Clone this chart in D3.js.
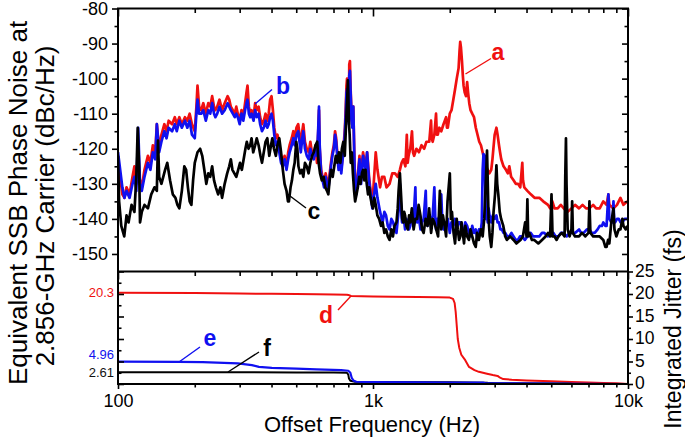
<!DOCTYPE html>
<html><head><meta charset="utf-8">
<script src="https://cdn.jsdelivr.net/npm/d3@7/dist/d3.min.js"></script>
<style>body{margin:0;background:#fff}svg{display:block}text{font-family:Arial,"Liberation Sans",sans-serif}</style>
</head><body><svg id="c" width="685" height="438"></svg>
<script>
// ---------- DATA ----------
const freqA=[100,102,104,106,108,111,114,116,118,120,124,127,131,134,137,140,142,145,148,152,155,158,163,167,170,174,178,183,187,191,195,200,203,205,208,212,216,221,226,230,234,238,241,245,250,256,262,269,273,277,282,287,291,295,300,305,310,315,319,322,326,330,334,340,345,350,356,361,367,373,379,385,390,395,400,405,410,416,422,429,436,443,450,458,465,471,480,487,493,501,509,515,521,528,533,541,550,560,568,576,586,595,603,610,614,618,626,634,643,652,660,667,674,684,693,702,710,717,724,733,742,751,760,769,776,782,787,791,795,800,805,807,812,817,824,830,837,844,851,860,869,878,885,891,898,905,914,924,934,942,948,956,965,975,984,994,
1000,1025,1041,1066,1085,1107,1130,1161,1190,1220,1250,1275,1295,1315,1340,1357,1368,1379,1400,1422,1435,1450,1480,1514,1550,1587,1620,1662,1689,1700,1714,1740,1767,1780,1795,1820,1852,1890,1935,1950,1965,2000,2032,2065,2098,2130,2166,2185,2198,2212,2233,2250,2266,2290,2315,2340,2360,2385,2413,2450,2490,2530,2570,2610,2651,2690,2731,2775,2818,2860,2909,2940,2965,3000,3048,3080,3120,3150,3183,3250,3321,3380,3424,3480,3558,3630,3707,3780,3850,3875,3920,4031,4157,4300,4490,4650,4856,4950,5050,5150,5300,5450,5600,5800,6000,6200,6427,6633,6850,7060,7300,7500,7745,8000,8241,8375,8450,8770,9054,9339,9600,9940];
const noiseA=[-124,-128,-133,-134,-131,-133,-128,-125,-130,-127,-131,-126,-122,-124,-119,-121,-113,-120,-116,-113,-115,-112,-113,-111,-113,-111,-113,-111,-112,-110,-113,-115,-108,-102,-108,-109,-107,-110,-107,-108,-105,-108,-109,-108,-106,-109,-107,-105,-106,-108,-109,-110,-108,-110,-112,-109,-111,-107,-104,-102,-108,-110,-109,-111,-107,-109,-108,-111,-113,-112,-110,-112,-110,-106,-105,-109,-114,-117,-116,-119,-122,-124,-122,-125,-121,-119,-117,-115,-117,-114,-113,-116,-119,-115,-113,-118,-120,-121,-118,-121,-122,-119,-124,-115,-109,-120,-126,-128,-130,-127,-129,-131,-128,-124,-121,-119,-115,-117,-121,-125,-123,-126,-122,-118,-114,-108,-102,-100,-104,-108,-112,-96,-95,-103,-110,-113,-108,-120,-131,-132,-128,-125,-122,-126,-129,-124,-121,-123,-125,-123,-121,-124,-128,-131,-133,-136,
-133,-121,-126,-131,-128,-128,-131,-130,-127,-127,-128,-126,-124,-123,-125,-116,-124,-122,-120,-115,-121,-122,-120,-121,-119,-120,-118,-118,-112,-117,-118,-116,-110,-116,-116,-114,-115,-113,-111,-114,-114,-110,-109,-106,-103,-100,-97,-92,-89.5,-91,-95,-99,-102,-104,-105,-101,-104,-107,-109,-110,-111,-114,-116,-118,-119,-121,-123,-125,-126,-127,-126,-123,-120,-116,-114,-116,-119,-121,-123,-125,-126,-127,-125,-128,-129,-130,-130,-131,-124,-129,-131,-132,-133,-134,-134,-135,-136,-137,-135,-137,-137,-136,-137,-138,-137,-136,-137,-136,-137,-137,-136,-137,-137,-135,-136,-133,-136,-137,-136,-134,-136,-135];

const freqB=[100,102,104,106,108,111,114,116,118,120,122,124,127,131,134,137,140,142,145,148,152,155,158,163,167,170,174,178,183,187,191,195,200,203,205,208,212,216,221,226,230,234,238,241,245,250,256,262,269,273,277,282,287,291,295,300,305,310,315,319,322,326,330,334,340,345,350,356,361,367,373,379,385,390,395,400,405,410,416,422,429,436,443,450,458,465,471,480,487,493,501,509,515,521,528,533,541,550,560,568,576,586,595,603,610,614,618,626,634,643,652,660,667,674,684,693,702,710,717,724,733,742,751,760,769,776,782,787,791,795,800,805,807,812,817,824,830,837,844,851,860,869,878,885,891,898,905,914,924,934,942,948,956,965,975,984,994,
1000,1025,1041,1066,1091,1108,1125,1143,1161,1180,1200,1218,1236,1255,1275,1290,1300,1318,1336,1352,1370,1385,1400,1420,1443,1466,1475,1490,1510,1535,1557,1580,1610,1620,1636,1660,1690,1715,1740,1755,1767,1790,1810,1852,1870,1890,1910,1935,1965,2000,2030,2060,2095,2130,2165,2200,2230,2266,2300,2340,2377,2413,2450,2490,2530,2570,2605,2640,2670,2692,2712,2745,2770,2795,2818,2840,2864,2909,2950,3000,3048,3080,3120,3160,3200,3250,3300,3360,3420,3490,3558,3630,3700,3770,3850,3940,4031,4100,4157,4250,4350,4490,4600,4700,4856,5000,5100,5200,5333,5450,5600,5750,5900,6050,6200,6427,6550,6700,6900,7060,7200,7400,7600,7745,7900,8000,8150,8241,8375,8450,8600,8700,8770,8830,8900,9054,9200,9350,9500,9700,9940];
const noiseB=[-121,-126,-131,-134,-132,-134,-130,-128,-132,-114,-130,-132,-128,-124,-126,-121,-123,-113,-121,-118,-115,-117,-114,-115,-113,-115,-112,-114,-112,-114,-112,-116,-117,-110,-106,-110,-110,-109,-112,-109,-110,-107,-110,-111,-110,-108,-110,-109,-107,-108,-109,-110,-111,-110,-111,-113,-110,-112,-109,-107,-106,-110,-111,-110,-112,-109,-111,-110,-113,-115,-114,-112,-114,-113,-111,-110,-112,-116,-119,-118,-121,-124,-125,-123,-126,-123,-121,-119,-117,-119,-116,-115,-118,-121,-117,-115,-120,-122,-123,-120,-122,-123,-120,-122,-114,-108,-119,-127,-129,-131,-128,-130,-132,-129,-125,-122,-120,-116,-118,-122,-126,-124,-127,-123,-120,-115,-110,-104,-103,-106,-110,-113,-99,-97.8,-104,-111,-114,-108,-121,-133,-133,-129,-126,-123,-127,-130,-126,-122,-124,-126,-124,-121,-125,-129,-132,-134,-137,
-135,-130,-134,-138,-141,-138,-139,-142,-143,-140,-141,-143,-144,-139,-130,-138,-141,-139,-143,-140,-141,-143,-142,-139,-140,-131,-140,-141,-139,-143,-141,-140,-132,-140,-142,-140,-141,-139,-131,-140,-143,-140,-141,-133,-141,-143,-141,-142,-140,-144,-141,-142,-140,-143,-141,-141,-143,-144,-141,-142,-144,-145,-142,-144,-143,-146,-143,-144,-141,-126,-121.5,-122,-140,-138,-141,-137,-139,-141,-139,-140,-139,-141,-141,-143,-143,-144,-144,-145,-145,-144,-145,-146,-146,-145,-145,-146,-145,-144,-144,-145,-145,-145,-144,-144,-145,-144,-144,-145,-145,-144,-144,-145,-144,-144,-144,-143,-144,-144,-143,-143,-144,-144,-143,-142,-142,-141,-142,-142,-133,-140,-141,-141,-135,-141,-141,-140,-140,-141,-141,-140,-140];

const freqC=[100,101,103,105.8,108,110,113,116,118,119.5,121,122,124,127,131,135,139,142,143.5,145,148,153,156,160,164,168,171,174,178,182,185,188,191,194,197,200,205,210,214,218,222,226,230,234,238,242,247,252,256,262,268,273,277,281,286,291,296,301,306,311,316,320,325,330,334,339,345,350,356,362,367,373,379,385,392,398,403,409,416,422,429,436,443,450,458,464,468,475,481,487,493,500,505,510,518,526,533,541,550,559,568,577,586,595,604,612,620,630,640,650,660,668,676,685,695,705,715,725,735,745,755,765,775,782,788,793,797,800,804,810,818,826,834,843,851,862,872,883,893,905,915,925,935,945,956,967,978,990,
1000,1012,1025,1040,1057,1075,1091,1108,1125,1143,1161,1180,1197,1215,1236,1250,1260,1275,1290,1302,1315,1325,1336,1352,1370,1385,1400,1420,1443,1465,1490,1510,1535,1557,1580,1608,1636,1660,1690,1715,1740,1770,1800,1829,1852,1880,1910,1935,1960,2001,2020,2040,2070,2098,2130,2150,2175,2200,2225,2250,2275,2302,2340,2377,2410,2450,2490,2529,2560,2600,2650,2692,2730,2760,2800,2840,2870,2909,2940,2970,3010,3048,3070,3100,3140,3180,3243,3300,3350,3450,3558,3650,3787,3870,3950,4000,4031,4060,4100,4200,4290,4450,4600,4750,4856,4950,5012,5060,5150,5250,5333,5500,5640,5675,5711,5740,5800,5900,6000,6039,6080,6200,6427,6600,6800,7000,7060,7120,7300,7500,7745,8000,8150,8241,8350,8450,8600,8770,8850,9000,9200,9339,9500,9600,9800,9940];
const noiseC=[-122,-135,-142,-145,-139,-141,-136,-138,-128,-114,-125,-141,-138,-136,-137,-133,-131,-132,-117.7,-128,-130,-126,-124,-129,-133,-134,-136,-137,-132,-125,-126,-131,-135,-136,-129,-124,-121,-120,-122,-126,-130,-127,-128,-125,-129,-131,-133,-131,-134,-130,-127,-125,-123,-126,-127,-128,-126,-124,-126,-123,-120,-118,-120,-119,-117,-121,-119,-117,-119,-122,-124,-121,-118,-117,-122,-119,-117,-120,-122,-119,-117,-121,-126,-130,-132,-135,-135,-131,-129,-126,-124,-118,-120,-125,-127,-126,-128,-124,-125,-127,-124,-122,-121,-119,-118,-124,-127,-129,-128,-131,-132,-133,-129,-126,-128,-125,-122,-124,-121,-124,-120,-118,-122,-115,-109,-105,-100.5,-104,-112,-116,-124,-121,-127,-132,-135,-133,-131,-128,-130,-127,-126,-129,-126,-130,-133,-131,-134,-136,
-137,-134,-136,-139,-140,-142,-141,-144,-143,-145,-146,-143,-145,-142,-141,-137,-132,-127,-134,-140,-141,-138,-139,-142,-143,-139,-141,-137,-143,-140,-140,-136,-139,-143,-144,-140,-142,-137,-144,-140,-141,-143,-145,-132,-143,-139,-142,-145,-135,-127,-140,-138,-144,-147,-140,-143,-146,-145,-141,-144,-147,-142,-145,-146,-143,-145,-147,-148,-144,-146,-143,-145,-140,-132,-120.5,-140,-145,-148,-144,-138,-133,-124.7,-130,-133,-138,-140,-142,-145,-146,-145,-146,-147,-146,-145,-141,-145,-134.4,-145,-144,-146,-146,-147,-146,-145,-144,-145,-133,-145,-145,-146,-145,-144,-145,-128,-117,-130,-143,-145,-143,-135,-144,-145,-145,-144,-145,-144,-135,-144,-145,-145,-145,-146,-148,-148,-146,-147,-141,-137,-143,-145,-143,-143,-140,-142,-143,-142];

const freqD=[100,200,300,400,500,600,700,790,800,820,900,1000,1200,1500,1800,2000,2060,2090,2110,2130,2150,2180,2220,2300,2380,2500,2600,2800,2950,3080,3150,3240,3500,4000,5000,6000,7000,8000,9000,10000];
const jitterD=[20.3,20.2,20.1,20.05,20.0,19.95,19.9,19.85,19.8,19.55,19.5,19.45,19.4,19.35,19.3,19.2,18.9,18.0,16,13,10,8,6.5,5.3,3.8,3.1,2.7,2.3,2.0,1.8,1.4,1.1,0.95,0.8,0.6,0.45,0.35,0.25,0.15,0];
const freqE=[100,173,215,295,335,357,401,500,600,750,800,815,825,837,860,1000,1500,2000,2700,2750,3500,5000,7000,10000];
const jitterE=[4.96,4.93,4.85,4.57,4.2,3.8,3.6,3.4,3.25,3.1,2.95,2.5,1.4,0.8,0.5,0.42,0.38,0.33,0.3,0.2,0.15,0.1,0.06,0];
const freqF=[100,300,500,700,790,800,805,815,850,1000,2000,2800,2850,3100,5700,6000,10000];
const jitterF=[2.61,2.6,2.58,2.55,2.5,2.1,1.2,0.7,0.5,0.45,0.4,0.3,0.2,0.15,0.1,0.05,0];

const noiseTicks=[-150,-140,-130,-120,-110,-100,-90,-80];
const noiseMinor=[-145,-135,-125,-115,-105,-95,-85];
const jitterTicks=[0,5,10,15,20,25];
const jitterMinor=[2.5,7.5,12.5,17.5,22.5];
const freqTicks=[100,1000,10000];
const freqTickLabels=["100","1k","10k"];
const freqMinor=[200,300,400,500,600,700,800,900,2000,3000,4000,5000,6000,7000,8000,9000];
const endLabels=[{v:20.3,t:"20.3",c:"#ee1111"},{v:4.96,t:"4.96",c:"#1111ee"},{v:2.61,t:"2.61",c:"#111"}];

// ---------- LAYOUT ----------
const RED="#f01010", BLUE="#1010f0", BLACK="#000";
const X0=118,X1=628,YT=8.5,YD=271.5,YB=384;
const x=d3.scaleLog().domain([100,10000]).range([X0,X1]);
const yU=d3.scaleLinear().domain([-155,-80]).range([YD,YT]);
const yL=d3.scaleLinear().domain([0,25]).range([YB,YD]);
const svg=d3.select("#c");
const FONT='Arial,"Liberation Sans",sans-serif';

svg.append("clipPath").attr("id","cu").append("rect").attr("x",X0).attr("y",YT).attr("width",X1-X0).attr("height",YD-YT);
svg.append("clipPath").attr("id","cl").append("rect").attr("x",X0).attr("y",YD).attr("width",X1-X0).attr("height",YB-YD);

function path(g,fs,vs,ys,color,w){
  const ln=d3.line().x(i=>x(fs[i])).y(i=>ys(vs[i]));
  g.append("path").attr("d",ln(d3.range(fs.length))).attr("fill","none")
   .attr("stroke",color).attr("stroke-width",w).attr("stroke-linejoin","round");
}
const gU=svg.append("g").attr("clip-path","url(#cu)");
path(gU,freqA,noiseA,yU,RED,2.7);
path(gU,freqB,noiseB,yU,BLUE,2.7);
path(gU,freqC,noiseC,yU,BLACK,2.7);
const gL=svg.append("g").attr("clip-path","url(#cl)");
path(gL,freqD,jitterD,yL,RED,2);
path(gL,freqF,jitterF,yL,BLACK,2);
path(gL,freqE,jitterE,yL,BLUE,2.2);

function styleAxis(g,fs){
  g.attr("font-family",FONT).attr("font-size",fs||18);
  g.selectAll(".domain").remove();
  g.selectAll("line").attr("stroke","#000").attr("stroke-width",1.6);
  g.selectAll("text").attr("fill","#000");
}
// upper left (outward)
svg.append("g").attr("transform",`translate(${X0},0)`).call(d3.axisLeft(yU).tickValues(noiseTicks).tickSize(6).tickPadding(4).tickFormat(d=>String(d))).call(styleAxis);
svg.append("g").attr("transform",`translate(${X0},0)`).call(d3.axisLeft(yU).tickValues(noiseMinor).tickSize(3.5).tickFormat("")).call(styleAxis);
// upper right (inward)
svg.append("g").attr("transform",`translate(${X1},0)`).call(d3.axisLeft(yU).tickValues(noiseTicks).tickSize(6).tickFormat("")).call(styleAxis);
svg.append("g").attr("transform",`translate(${X1},0)`).call(d3.axisLeft(yU).tickValues(noiseMinor).tickSize(3.5).tickFormat("")).call(styleAxis);
// top (inward)
svg.append("g").attr("transform",`translate(0,${YT})`).call(d3.axisBottom(x).tickValues(freqTicks).tickSize(8).tickFormat("")).call(styleAxis);
svg.append("g").attr("transform",`translate(0,${YT})`).call(d3.axisBottom(x).tickValues(freqMinor).tickSize(4.5).tickFormat("")).call(styleAxis);
// divider (inward into lower panel)
svg.append("g").attr("transform",`translate(0,${YD})`).call(d3.axisBottom(x).tickValues(freqTicks).tickSize(8).tickFormat("")).call(styleAxis);
svg.append("g").attr("transform",`translate(0,${YD})`).call(d3.axisBottom(x).tickValues(freqMinor).tickSize(4.5).tickFormat("")).call(styleAxis);
// lower left (inward)
svg.append("g").attr("transform",`translate(${X0},0)`).call(d3.axisRight(yL).tickValues(jitterTicks).tickSize(6).tickFormat("")).call(styleAxis);
svg.append("g").attr("transform",`translate(${X0},0)`).call(d3.axisRight(yL).tickValues(jitterMinor).tickSize(3.5).tickFormat("")).call(styleAxis);
// lower right (outward, labelled)
const gR=svg.append("g").attr("transform",`translate(${X1},0)`).call(d3.axisRight(yL).tickValues(jitterTicks).tickSize(5).tickPadding(2).tickFormat(d=>String(d))).call(styleAxis);
gR.selectAll("text").attr("dy","0.28em").attr("font-size",17.5);
svg.append("g").attr("transform",`translate(${X1},0)`).call(d3.axisRight(yL).tickValues(jitterMinor).tickSize(3).tickFormat("")).call(styleAxis);
// bottom (outward, labelled)
svg.append("g").attr("transform",`translate(0,${YB})`).call(d3.axisBottom(x).tickValues(freqTicks).tickSize(5).tickPadding(5.5).tickFormat((d,i)=>freqTickLabels[i])).call(styleAxis);
svg.append("g").attr("transform",`translate(0,${YB})`).call(d3.axisBottom(x).tickValues(freqMinor).tickSize(3.5).tickFormat("")).call(styleAxis);

// frames
svg.append("rect").attr("x",X0).attr("y",YT).attr("width",X1-X0).attr("height",YB-YT).attr("fill","none").attr("stroke","#000").attr("stroke-width",2);
svg.append("line").attr("x1",X0).attr("x2",X1).attr("y1",YD).attr("y2",YD).attr("stroke","#000").attr("stroke-width",2);

// end-value labels at left of lower panel
svg.selectAll(".endlab").data(endLabels).enter().append("text")
  .attr("x",X0-4).attr("y",d=>yL(d.v)+ (d.t==="4.96"?-3:4.5)).attr("text-anchor","end")
  .attr("font-size",13).attr("fill",d=>d.c).text(d=>d.t);

// curve labels with leaders
const labs=[
 {t:"a",c:RED,x:498,y:60,l:[491,58.5,465.5,74]},
 {t:"b",c:BLUE,x:283,y:94,l:[272,89.5,255,104]},
 {t:"c",c:BLACK,x:314,y:219,l:[306,208,290,196]},
 {t:"d",c:RED,x:326,y:323,l:[338,310,351,296]},
 {t:"e",c:BLUE,x:210,y:346,l:[200,347,179,362]},
 {t:"f",c:BLACK,x:267,y:356,l:[259,352,228,372]}
];
labs.forEach(d=>{
  svg.append("line").attr("x1",d.l[0]).attr("y1",d.l[1]).attr("x2",d.l[2]).attr("y2",d.l[3]).attr("stroke",d.c).attr("stroke-width",1.4);
  svg.append("text").attr("x",d.x).attr("y",d.y).attr("text-anchor","middle").attr("font-size",23).attr("font-weight","bold").attr("fill",d.c).text(d.t);
});

// axis titles
svg.append("text").attr("x",372).attr("y",432).attr("text-anchor","middle").attr("font-size",22).text("Offset Frequency (Hz)");
svg.append("text").attr("transform","translate(27,203) rotate(-90)").attr("text-anchor","middle").attr("font-size",26).text("Equivalent SSB Phase Noise at");
svg.append("text").attr("transform","translate(54,206) rotate(-90)").attr("text-anchor","middle").attr("font-size",26).text("2.856-GHz Carrier (dBc/Hz)");
svg.append("text").attr("transform","translate(681,329) rotate(-90)").attr("text-anchor","middle").attr("font-size",23).text("Integrated Jitter (fs)");
</script></body></html>
